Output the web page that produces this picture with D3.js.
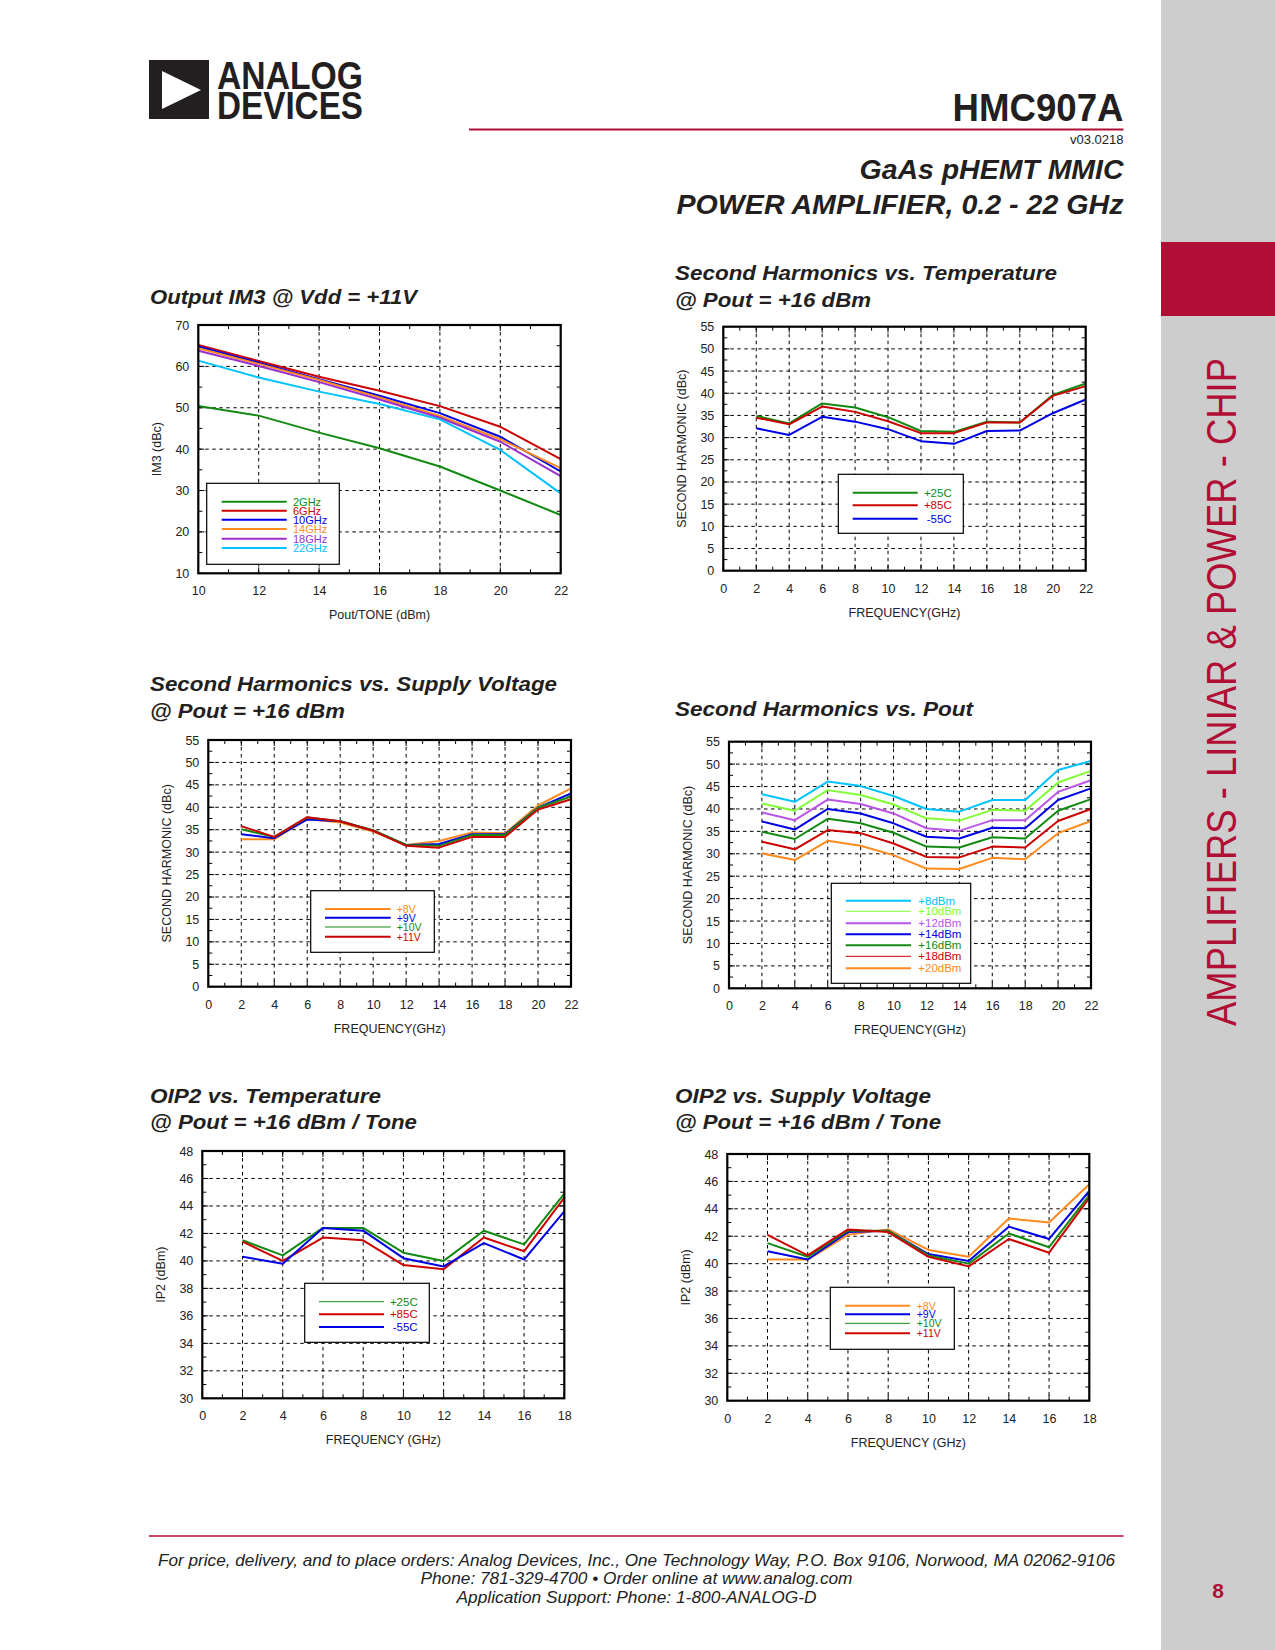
<!DOCTYPE html>
<html><head><meta charset="utf-8">
<script src="https://cdn.jsdelivr.net/npm/d3@7"></script>
<style>
html,body{margin:0;padding:0;background:#fff;}
svg{display:block;}
text{font-family:"Liberation Sans",Arial,Helvetica,sans-serif;}
</style></head><body>
<svg id="page" width="1275" height="1650"></svg>
<script>
// ---------------- DATA ----------------
// Chart 1: Output IM3 @ Vdd = +11V
const im3Pout = [10, 12, 14, 16, 18, 20, 22];
const im3Labels = ["2GHz", "6GHz", "10GHz", "14GHz", "18GHz", "22GHz"];
const im3_2GHz  = [50.4, 48.1, 44.0, 40.2, 35.8, 30.0, 24.1];
const im3_6GHz  = [65.2, 61.3, 57.5, 54.1, 50.4, 45.4, 37.6];
const im3_10GHz = [64.8, 60.9, 56.9, 52.9, 48.7, 43.0, 34.6];
const im3_14GHz = [64.4, 60.6, 56.7, 52.5, 48.0, 42.4, 35.4];
const im3_18GHz = [63.8, 60.1, 56.2, 52.0, 47.6, 41.8, 33.5];
const im3_22GHz = [61.4, 57.3, 53.9, 50.9, 47.2, 39.8, 29.3];
const im3XTicks = [10, 12, 14, 16, 18, 20, 22];
const im3YTicks = [10, 20, 30, 40, 50, 60, 70];

// Second harmonic charts (frequency axis)
const shFreq = [2, 4, 6, 8, 10, 12, 14, 16, 18, 20, 22];
const shXTicks = [0, 2, 4, 6, 8, 10, 12, 14, 16, 18, 20, 22];
const shYTicks = [0, 5, 10, 15, 20, 25, 30, 35, 40, 45, 50, 55];

// Chart 2: Second Harmonics vs Temperature
const tempLabels = ["+25C", "+85C", "-55C"];
const shT_p25 = [34.9, 33.2, 37.7, 36.8, 34.6, 31.5, 31.3, 33.6, 33.4, 39.6, 42.2];
const shT_p85 = [34.5, 33.0, 37.0, 35.8, 33.7, 31.0, 31.0, 33.4, 33.4, 39.4, 41.6];
const shT_m55 = [32.1, 30.6, 34.7, 33.6, 31.9, 29.2, 28.6, 31.5, 31.6, 35.5, 38.6];

// Chart 3: Second Harmonics vs Supply Voltage
const voltLabels = ["+8V", "+9V", "+10V", "+11V"];
const shV_8  = [32.9, 32.9, 37.4, 36.6, 34.6, 31.6, 32.5, 34.4, 34.2, 40.4, 44.2];
const shV_9  = [34.0, 33.1, 37.3, 36.9, 34.8, 31.6, 31.8, 34.0, 34.0, 39.9, 43.1];
const shV_10 = [35.1, 33.4, 37.7, 36.9, 34.9, 31.6, 31.4, 33.8, 33.8, 39.9, 42.4];
const shV_11 = [35.8, 33.4, 37.8, 36.9, 34.8, 31.4, 31.0, 33.4, 33.4, 39.5, 41.8];

// Chart 4: Second Harmonics vs Pout
const poutLabels = ["+8dBm", "+10dBm", "+12dBm", "+14dBm", "+16dBm", "+18dBm", "+20dBm"];
const shP_8  = [43.3, 41.6, 46.1, 45.1, 42.9, 40.0, 39.4, 42.0, 42.0, 48.7, 50.7];
const shP_10 = [41.2, 39.6, 44.2, 43.1, 41.0, 37.9, 37.4, 39.8, 39.6, 45.9, 48.5];
const shP_12 = [39.2, 37.5, 42.1, 41.1, 39.0, 35.7, 35.1, 37.5, 37.5, 43.8, 46.4];
const shP_14 = [37.2, 35.4, 40.0, 39.0, 36.8, 33.8, 33.4, 35.8, 35.7, 42.0, 44.6];
const shP_16 = [34.9, 33.3, 37.8, 36.8, 34.7, 31.6, 31.4, 33.7, 33.4, 39.6, 42.2];
const shP_18 = [32.7, 31.0, 35.3, 34.6, 32.3, 29.3, 29.2, 31.6, 31.4, 37.3, 40.0];
const shP_20 = [30.1, 28.6, 32.9, 31.8, 29.7, 26.7, 26.6, 29.1, 28.8, 34.6, 37.3];

// OIP2 charts
const ip2Freq = [2, 4, 6, 8, 10, 12, 14, 16, 18];
const ip2XTicks = [0, 2, 4, 6, 8, 10, 12, 14, 16, 18];
const ip2YTicks = [30, 32, 34, 36, 38, 40, 42, 44, 46, 48];

// Chart 5: OIP2 vs Temperature
const ip2T_p25 = [41.5, 40.4, 42.4, 42.4, 40.6, 40.0, 42.2, 41.2, 44.9];
const ip2T_p85 = [41.4, 40.0, 41.7, 41.5, 39.7, 39.4, 41.7, 40.7, 44.6];
const ip2T_m55 = [40.3, 39.8, 42.4, 42.2, 40.2, 39.6, 41.3, 40.1, 43.6];

// Chart 6: OIP2 vs Supply Voltage
const ip2V_8  = [40.3, 40.3, 42.1, 42.5, 41.0, 40.5, 43.3, 43.0, 45.8];
const ip2V_9  = [40.9, 40.3, 42.3, 42.4, 40.7, 40.2, 42.7, 41.8, 45.3];
const ip2V_10 = [41.5, 40.5, 42.4, 42.4, 40.6, 40.0, 42.2, 41.2, 45.0];
const ip2V_11 = [42.1, 40.6, 42.5, 42.3, 40.5, 39.8, 41.8, 40.8, 44.8];

// ---------------- STYLE ----------------
const COL = {green:"#128a12", red:"#cc0000", blue:"#0000e6", orange:"#ff8a1e",
  purple:"#9a2ed0", cyan:"#00c3ff", lime:"#80ff33", violet:"#bb55e8"};
const CRIMSON = "#b10e36";
const INK = "#222";

const svg = d3.select("#page");
svg.append("rect").attr("width",1275).attr("height",1650).attr("fill","#fff");

// ---------------- PAGE FURNITURE ----------------
// sidebar
svg.append("rect").attr("x",1161).attr("y",0).attr("width",114).attr("height",1650).attr("fill","#cdcdcd");
svg.append("rect").attr("x",1161).attr("y",242).attr("width",114).attr("height",74).attr("fill",CRIMSON);
svg.append("text").attr("transform","translate(1236,692) rotate(-90)")
  .attr("text-anchor","middle").attr("font-size",42).attr("fill",CRIMSON)
  .attr("textLength",668).attr("lengthAdjust","spacingAndGlyphs")
  .style("font-family","'Liberation Sans Narrow','Liberation Sans',Arial,sans-serif")
  .text("AMPLIFIERS - LINIAR & POWER - CHIP");
svg.append("text").attr("x",1218).attr("y",1598).attr("text-anchor","middle")
  .attr("font-size",21).attr("font-weight","bold").attr("fill",CRIMSON).text("8");

// logo
svg.append("rect").attr("x",149).attr("y",60).attr("width",60).attr("height",59).attr("fill","#231f20");
svg.append("path").attr("d","M162,71 L162,109 L201,90 Z").attr("fill","#fff");
const logoFont = "'Liberation Sans Narrow','Liberation Sans',Arial,sans-serif";
svg.append("text").attr("x",217).attr("y",89).attr("font-size",38).attr("font-weight","bold")
  .attr("fill","#231f20").attr("textLength",146).attr("lengthAdjust","spacingAndGlyphs")
  .style("font-family",logoFont).text("ANALOG");
svg.append("text").attr("x",217).attr("y",119).attr("font-size",38).attr("font-weight","bold")
  .attr("fill","#231f20").attr("textLength",146).attr("lengthAdjust","spacingAndGlyphs")
  .style("font-family",logoFont).text("DEVICES");

// header right
svg.append("text").attr("x",1123.5).attr("y",121).attr("text-anchor","end").attr("font-size",38)
  .attr("font-weight","bold").attr("fill","#231f20").attr("textLength",171).attr("lengthAdjust","spacingAndGlyphs")
  .style("font-family",logoFont).text("HMC907A");
svg.append("line").attr("x1",469).attr("x2",1123.5).attr("y1",129.5).attr("y2",129.5)
  .attr("stroke",CRIMSON).attr("stroke-width",2);
svg.append("text").attr("x",1123.5).attr("y",144).attr("text-anchor","end").attr("font-size",13)
  .attr("fill",INK).style("font-family",logoFont).text("v03.0218");
svg.append("text").attr("x",1123.5).attr("y",179).attr("text-anchor","end").attr("font-size",28)
  .attr("font-weight","bold").attr("font-style","italic").attr("fill","#231f20")
  .attr("textLength",264).attr("lengthAdjust","spacingAndGlyphs").text("GaAs pHEMT MMIC");
svg.append("text").attr("x",1123.5).attr("y",214).attr("text-anchor","end").attr("font-size",28)
  .attr("font-weight","bold").attr("font-style","italic").attr("fill","#231f20")
  .attr("textLength",447).attr("lengthAdjust","spacingAndGlyphs").text("POWER AMPLIFIER, 0.2 - 22 GHz");

// footer
svg.append("line").attr("x1",149).attr("x2",1123.5).attr("y1",1536).attr("y2",1536)
  .attr("stroke",CRIMSON).attr("stroke-width",1.5);
const footer = [
  {t:"For price, delivery, and to place orders: Analog Devices, Inc., One Technology Way, P.O. Box 9106, Norwood, MA 02062-9106", y:1566, w:957},
  {t:"Phone: 781-329-4700 \u2022 Order online at www.analog.com", y:1584, w:432},
  {t:"Application Support: Phone: 1-800-ANALOG-D", y:1603, w:360}
];
footer.forEach(f => svg.append("text").attr("x",636.5).attr("y",f.y).attr("text-anchor","middle")
  .attr("font-size",17).attr("font-style","italic").attr("fill",INK)
  .attr("textLength",f.w).attr("lengthAdjust","spacingAndGlyphs")
  .style("font-family",logoFont).text(f.t));

// ---------------- CHART FUNCTION ----------------
function drawChart(c) {
  const g = svg.append("g");
  const x = d3.scaleLinear().domain(c.xDomain).range([c.L, c.R]);
  const y = d3.scaleLinear().domain(c.yDomain).range([c.B, c.T]);

  // title
  c.titles.forEach(t => g.append("text").attr("x",c.titleX).attr("y",t.y)
    .attr("font-size",21).attr("font-weight","bold").attr("font-style","italic").attr("fill","#231f20")
    .attr("textLength",t.w).attr("lengthAdjust","spacingAndGlyphs").text(t.text));

  // grid (dashed) at major ticks, inner
  const dash = "3.5,3.5";
  c.xTicks.filter(v => v > c.xDomain[0] && v < c.xDomain[1]).forEach(v =>
    g.append("line").attr("x1",x(v)).attr("x2",x(v)).attr("y1",c.T).attr("y2",c.B)
      .attr("stroke","#000").attr("stroke-width",1).attr("stroke-dasharray",dash));
  c.yTicks.filter(v => v > c.yDomain[0] && v < c.yDomain[1]).forEach(v =>
    g.append("line").attr("x1",c.L).attr("x2",c.R).attr("y1",y(v)).attr("y2",y(v))
      .attr("stroke","#000").attr("stroke-width",1).attr("stroke-dasharray",dash));

  // minor ticks + major ticks on all sides
  const xMinor = d3.range(c.xDomain[0], c.xDomain[1] + 1e-9, c.xMinor);
  const yMinor = d3.range(c.yDomain[0], c.yDomain[1] + 1e-9, c.yMinor);
  xMinor.forEach(v => {
    const len = c.xTicks.includes(v) ? 6 : 4;
    g.append("line").attr("x1",x(v)).attr("x2",x(v)).attr("y1",c.B).attr("y2",c.B-len).attr("stroke","#000");
    g.append("line").attr("x1",x(v)).attr("x2",x(v)).attr("y1",c.T).attr("y2",c.T+len).attr("stroke","#000");
  });
  yMinor.forEach(v => {
    const len = c.yTicks.includes(v) ? 6 : 4;
    g.append("line").attr("x1",c.L).attr("x2",c.L+len).attr("y1",y(v)).attr("y2",y(v)).attr("stroke","#000");
    g.append("line").attr("x1",c.R).attr("x2",c.R-len).attr("y1",y(v)).attr("y2",y(v)).attr("stroke","#000");
  });

  // axes (labels) via d3 axes
  const xAxis = g.append("g").attr("transform",`translate(0,${c.B})`)
    .call(d3.axisBottom(x).tickValues(c.xTicks).tickSize(0).tickPadding(13).tickFormat(d3.format("d")));
  const yAxis = g.append("g").attr("transform",`translate(${c.L},0)`)
    .call(d3.axisLeft(y).tickValues(c.yTicks).tickSize(0).tickPadding(9).tickFormat(d3.format("d")));
  [xAxis, yAxis].forEach(a => {
    a.select(".domain").remove();
    a.selectAll("text").attr("font-size",12.5).attr("fill",INK)
      .style("font-family","'Liberation Sans',Arial,sans-serif");
  });

  // series lines
  const line = d3.line().x(d => x(d[0])).y(d => y(d[1]));
  c.series.forEach(s => {
    g.append("path").datum(c.xVals.map((xv,i) => [xv, s.values[i]]))
      .attr("d", line).attr("fill","none").attr("stroke",s.color)
      .attr("stroke-width",2).attr("stroke-linejoin","round");
  });

  // frame
  g.append("rect").attr("x",c.L).attr("y",c.T).attr("width",c.R-c.L).attr("height",c.B-c.T)
    .attr("fill","none").attr("stroke","#000").attr("stroke-width",2.2);

  // axis titles
  g.append("text").attr("x",(c.L+c.R)/2).attr("y",c.B+46).attr("text-anchor","middle")
    .attr("font-size",12.5).attr("fill",INK).text(c.xTitle);
  g.append("text").attr("transform",`translate(${c.L-37},${(c.T+c.B)/2}) rotate(-90)`)
    .attr("text-anchor","middle").attr("font-size",12.5).attr("fill",INK).text(c.yTitle);

  // legend
  const lg = c.legend;
  g.append("rect").attr("x",lg.box[0]).attr("y",lg.box[1]).attr("width",lg.box[2]-lg.box[0])
    .attr("height",lg.box[3]-lg.box[1]).attr("fill","#fff").attr("stroke","#000").attr("stroke-width",1.2);
  c.series.forEach((s,i) => {
    const ry = lg.rows[i];
    g.append("line").attr("x1",lg.x1).attr("x2",lg.x2).attr("y1",ry).attr("y2",ry)
      .attr("stroke",s.color).attr("stroke-width",s.lw || 2);
    g.append("text").attr("x",lg.tx).attr("y",ry+3.8).attr("text-anchor",lg.anchor)
      .attr("font-size",lg.fs || 11.5).attr("fill",s.color).text(s.name);
  });
}

// ---------------- CHARTS ----------------
drawChart({
  L:198.3, T:325, R:560.7, B:573.3, xDomain:[10,22], yDomain:[10,70],
  xTicks: im3XTicks, yTicks: im3YTicks, xMinor:1, yMinor:5, xVals: im3Pout,
  titleX:150, titles:[{text:"Output IM3 @ Vdd = +11V", y:304, w:267}],
  xTitle:"Pout/TONE (dBm)", yTitle:"IM3 (dBc)",
  series:[
    {name:im3Labels[0], values:im3_2GHz, color:COL.green},
    {name:im3Labels[1], values:im3_6GHz, color:COL.red},
    {name:im3Labels[2], values:im3_10GHz, color:COL.blue},
    {name:im3Labels[3], values:im3_14GHz, color:COL.orange},
    {name:im3Labels[4], values:im3_18GHz, color:COL.purple},
    {name:im3Labels[5], values:im3_22GHz, color:COL.cyan}
  ],
  legend:{box:[206.7,483.3,339.3,564.3], x1:221.7, x2:286.7, tx:293, anchor:"start", fs:11,
    rows:[501.7,510.7,519.7,529,538.7,548]}
});

drawChart({
  L:723.3, T:326.7, R:1085.7, B:570.7, xDomain:[0,22], yDomain:[0,55],
  xTicks: shXTicks, yTicks: shYTicks, xMinor:1, yMinor:2.5, xVals: shFreq,
  titleX:675, titles:[{text:"Second Harmonics vs. Temperature", y:280, w:382},
                      {text:"@ Pout = +16 dBm", y:306.5, w:196}],
  xTitle:"FREQUENCY(GHz)", yTitle:"SECOND HARMONIC (dBc)",
  series:[
    {name:tempLabels[0], values:shT_p25, color:COL.green},
    {name:tempLabels[1], values:shT_p85, color:COL.red},
    {name:tempLabels[2], values:shT_m55, color:COL.blue}
  ],
  legend:{box:[838.3,474.3,963.3,533.3], x1:852.7, x2:917.7, tx:951.7, anchor:"end",
    rows:[492.7,505.3,518.7]}
});

drawChart({
  L:208.3, T:740, R:571, B:986.7, xDomain:[0,22], yDomain:[0,55],
  xTicks: shXTicks, yTicks: shYTicks, xMinor:1, yMinor:2.5, xVals: shFreq,
  titleX:150, titles:[{text:"Second Harmonics vs. Supply Voltage", y:691, w:407},
                      {text:"@ Pout = +16 dBm", y:718, w:195}],
  xTitle:"FREQUENCY(GHz)", yTitle:"SECOND HARMONIC (dBc)",
  series:[
    {name:voltLabels[0], values:shV_8, color:COL.orange},
    {name:voltLabels[1], values:shV_9, color:COL.blue},
    {name:voltLabels[2], values:shV_10, color:COL.green, lw:1},
    {name:voltLabels[3], values:shV_11, color:COL.red}
  ],
  legend:{box:[310.7,890.7,434.3,952.3], x1:325, x2:390.7, tx:396.7, anchor:"start", fs:10.5,
    rows:[909,917.7,927,936.7]}
});

drawChart({
  L:729, T:741.7, R:1091, B:988.3, xDomain:[0,22], yDomain:[0,55],
  xTicks: shXTicks, yTicks: shYTicks, xMinor:1, yMinor:2.5, xVals: shFreq,
  titleX:675, titles:[{text:"Second Harmonics vs. Pout", y:716, w:298}],
  xTitle:"FREQUENCY(GHz)", yTitle:"SECOND HARMONIC (dBc)",
  series:[
    {name:poutLabels[0], values:shP_8, color:COL.cyan},
    {name:poutLabels[1], values:shP_10, color:COL.lime, lw:1},
    {name:poutLabels[2], values:shP_12, color:COL.violet},
    {name:poutLabels[3], values:shP_14, color:COL.blue},
    {name:poutLabels[4], values:shP_16, color:COL.green},
    {name:poutLabels[5], values:shP_18, color:COL.red, lw:1},
    {name:poutLabels[6], values:shP_20, color:COL.orange}
  ],
  legend:{box:[831.3,883.3,970.7,983.3], x1:845.7, x2:911, tx:918.3, anchor:"start",
    rows:[900.7,911.3,923.3,934.3,945.3,956.3,968.3]}
});

drawChart({
  L:202.3, T:1151, R:564.3, B:1398.3, xDomain:[0,18], yDomain:[30,48],
  xTicks: ip2XTicks, yTicks: ip2YTicks, xMinor:1, yMinor:1, xVals: ip2Freq,
  titleX:150, titles:[{text:"OIP2 vs. Temperature", y:1102.5, w:231},
                      {text:"@ Pout = +16 dBm / Tone", y:1129, w:267}],
  xTitle:"FREQUENCY (GHz)", yTitle:"IP2 (dBm)",
  series:[
    {name:tempLabels[0], values:ip2T_p25, color:COL.green, lw:1},
    {name:tempLabels[1], values:ip2T_p85, color:COL.red},
    {name:tempLabels[2], values:ip2T_m55, color:COL.blue}
  ],
  legend:{box:[304.7,1283.3,429.3,1342.3], x1:319, x2:384, tx:417.7, anchor:"end",
    rows:[1301.7,1314.3,1327]}
});

drawChart({
  L:727.3, T:1154, R:1089.3, B:1400.7, xDomain:[0,18], yDomain:[30,48],
  xTicks: ip2XTicks, yTicks: ip2YTicks, xMinor:1, yMinor:1, xVals: ip2Freq,
  titleX:675, titles:[{text:"OIP2 vs. Supply Voltage", y:1102.5, w:256},
                      {text:"@ Pout = +16 dBm / Tone", y:1129, w:266}],
  xTitle:"FREQUENCY (GHz)", yTitle:"IP2 (dBm)",
  series:[
    {name:voltLabels[0], values:ip2V_8, color:COL.orange},
    {name:voltLabels[1], values:ip2V_9, color:COL.blue},
    {name:voltLabels[2], values:ip2V_10, color:COL.green, lw:1},
    {name:voltLabels[3], values:ip2V_11, color:COL.red}
  ],
  legend:{box:[830.3,1287.3,954.3,1349.3], x1:845, x2:910, tx:916.7, anchor:"start", fs:10.5,
    rows:[1305.7,1314.3,1323.3,1333.3]}
});
</script>
</body></html>
